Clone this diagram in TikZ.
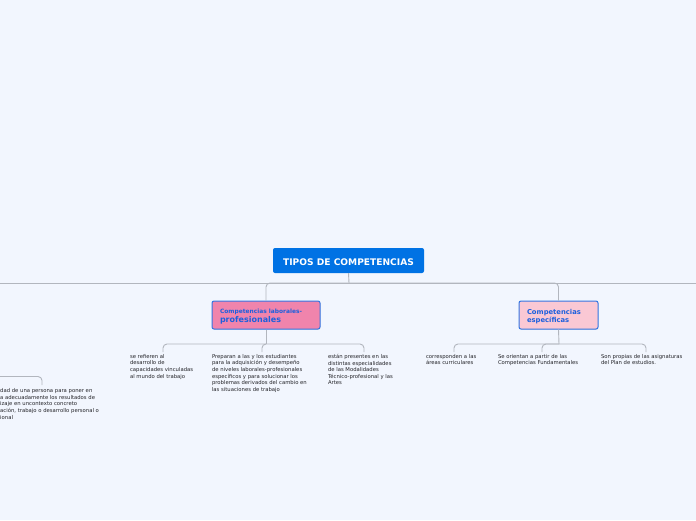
\documentclass[tikz,border=0pt]{standalone}
\usepackage{fontspec}
\setmainfont{DejaVu Sans}
\usetikzlibrary{shadows}
\definecolor{bg}{RGB}{242,246,254}
\definecolor{rootc}{RGB}{0,114,228}
\definecolor{linec}{RGB}{178,182,190}
\definecolor{pinkA}{RGB}{240,132,172}
\definecolor{pinkB}{RGB}{250,200,212}
\definecolor{subborder}{RGB}{52,118,226}
\definecolor{subtext}{RGB}{28,96,222}
\definecolor{leaftext}{RGB}{35,35,40}
\begin{document}
\begin{tikzpicture}[x=1pt,y=-1pt,
  conn/.style={draw=linec, line width=0.9pt, rounded corners=4pt},
  rootbox/.style={fill=rootc, rounded corners=2pt, text=white,
    font=\fontsize{9.1}{10}\selectfont\bfseries, minimum width=151pt,
    minimum height=25pt, inner sep=0pt, text height=10pt, text depth=0pt},
  subbox/.style={rounded corners=2pt, draw=subborder, line width=1pt,
    minimum height=28pt, align=flush left, inner xsep=8pt, inner ysep=0pt,
    text=subtext,
    drop shadow={opacity=0.18, shadow xshift=0.4pt, shadow yshift=-0.8pt}},
  leaf/.style={font=\fontsize{5.3}{6.6}\selectfont, text=leaftext, align=flush left,
    inner xsep=0pt, inner ysep=2pt, anchor=north}
]
\fill[bg] (0,0) rectangle (696,520);
\useasboundingbox (0,0) rectangle (696,520);

% root
\node[rootbox] (root) at (348.5,260.5) {TIPOS DE COMPETENCIAS};

% main horizontal
\coordinate (hub) at (349,283);
\coordinate (lineL) at (0,283);
\coordinate (lineR) at (696,283);
\draw[conn] (root.south) -- (hub);
\draw[conn, rounded corners=0pt] (lineL) -- (lineR);

% subtopics
\node[subbox, fill=pinkA, minimum width=108pt, text width=92pt,
  font=\fontsize{8}{9}\selectfont\bfseries] (n1) at (266,315)
  {{\fontsize{5.9}{7}\selectfont\rule{0pt}{8pt}Competencias laborales-}\\profesionales};
\node[subbox, fill=pinkB, minimum width=79pt, text width=63pt,
  font=\fontsize{6.8}{8.5}\selectfont\bfseries] (n2) at (558.5,315)
  {\rule{0pt}{8.2pt}Competencias\\específicas};

\draw[conn] (hub) -| (n1.north);
\draw[conn] (hub) -| (n2.north);

% leaves of n1
\node[leaf, text width=66pt] (c1) at (163,352)
  {se refieren al\\desarrollo de\\capacidades vinculadas\\al mundo del trabajo};
\node[leaf, text width=100pt] (c2) at (262,352)
  {Preparan a las y los estudiantes\\para la adquisición y desempeño\\de niveles laborales-profesionales\\específicos y para solucionar los\\problemas derivados del cambio en\\las situaciones de trabajo};
\node[leaf, text width=72pt] (c3) at (364,352)
  {están presentes en las\\distintas especialidades\\de las Modalidades\\Técnico-profesional y las\\Artes};

\coordinate (h1) at (266,344);
\draw[conn] (n1.south) -- (h1);
\draw[conn] (h1) -| (c1.north);
\draw[conn] (h1) -| (c2.north);
\draw[conn] (h1) -| (c3.north);

% leaves of n2
\node[leaf, text width=56pt] (c4) at (454,352)
  {corresponden a las\\áreas curriculares};
\node[leaf, text width=88pt] (c5) at (542,352)
  {Se orientan a partir de las\\Competencias Fundamentales};
\node[leaf, text width=90pt] (c6) at (646,352)
  {Son propias de las asignaturas\\del Plan de estudios.};

\coordinate (h2) at (559,344);
\draw[conn] (n2.south) -- (h2);
\draw[conn] (h2) -| (c4.north);
\draw[conn] (h2) -| (c5.north);
\draw[conn] (h2) -| (c6.north);

% partial node at left edge
\coordinate (lstart) at (0,376.5);
\coordinate (lend) at (42,385);
\draw[conn] (lstart) -| (lend);
\node[leaf, anchor=north west, text width=110pt] (c0) at (0,386.5)
  {dad de una persona para poner en\\a adecuadamente los resultados de\\izaje en uncontexto concreto\\ación, trabajo o desarrollo personal o\\ional};
\end{tikzpicture}
\end{document}
